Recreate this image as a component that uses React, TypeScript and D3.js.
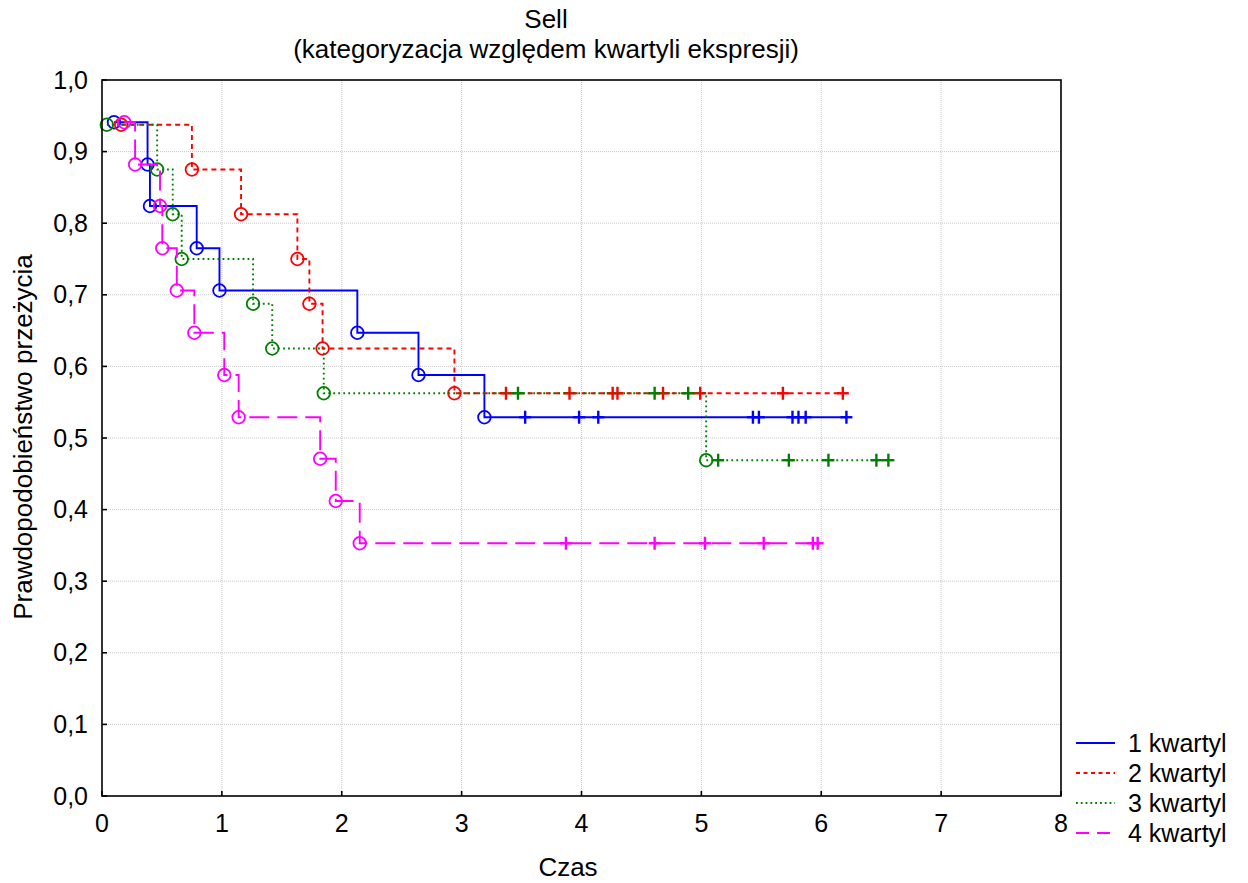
import React from "react";
import * as d3 from "d3";

const xTicks = [0, 1, 2, 3, 4, 5, 6, 7, 8];
const yTicks = [0, 0.1, 0.2, 0.3, 0.4, 0.5, 0.6, 0.7, 0.8, 0.9, 1.0];

const q1Times = [0.1, 0.38, 0.4, 0.79, 0.98, 2.13, 2.64, 3.19];
const q1Surv = [0.941, 0.882, 0.824, 0.765, 0.706, 0.647, 0.588, 0.529];
const q1Cens = [3.53, 3.98, 4.14, 5.43, 5.48, 5.76, 5.81, 5.87, 6.21];

const q2Times = [0.16, 0.75, 1.16, 1.63, 1.73, 1.84, 2.94];
const q2Surv = [0.9375, 0.875, 0.8125, 0.75, 0.6875, 0.625, 0.5625];
const q2Cens = [3.37, 3.9, 4.26, 4.3, 4.68, 4.99, 5.68, 6.18];

const q3Times = [0.04, 0.46, 0.59, 0.665, 1.26, 1.42, 1.85, 5.04];
const q3Surv = [0.9375, 0.875, 0.8125, 0.75, 0.6875, 0.625, 0.5625, 0.469];
const q3Cens = [3.47, 4.61, 4.89, 5.14, 5.73, 6.06, 6.46, 6.56];

const q4Times = [0.186, 0.276, 0.484, 0.503, 0.624, 0.77, 1.02, 1.14, 1.82, 1.95, 2.15];
const q4Surv = [0.941, 0.882, 0.824, 0.765, 0.706, 0.647, 0.588, 0.529, 0.471, 0.412, 0.353];
const q4Cens = [3.87, 4.61, 5.03, 5.52, 5.93, 5.97];

const seriesNames = ["1 kwartyl", "2 kwartyl", "3 kwartyl", "4 kwartyl"];

const series = [
  { name: seriesNames[0], times: q1Times, surv: q1Surv, cens: q1Cens, color: "#0000ff", dash: "none", legDash: "none" },
  { name: seriesNames[1], times: q2Times, surv: q2Surv, cens: q2Cens, color: "#ff0000", dash: "5,4", legDash: "4,3.5" },
  { name: seriesNames[2], times: q3Times, surv: q3Surv, cens: q3Cens, color: "#008000", dash: "1.8,3.2", legDash: "1.8,3" },
  { name: seriesNames[3], times: q4Times, surv: q4Surv, cens: q4Cens, color: "#ff00ff", dash: "20,8", legDash: "13,8" },
];

const W = 1248;
const H = 883;
const L = 102, R = 1061, T = 80, B = 796;
const FONT = "Arial, 'Liberation Sans', Helvetica, sans-serif";

export default function App() {
  const x = d3.scaleLinear().domain([0, 8]).range([L, R]);
  const y = d3.scaleLinear().domain([0, 1]).range([B, T]);
  const fmt = (v: number) => v.toFixed(1).replace(".", ",");

  const survAt = (s: typeof series[0], t: number) => {
    const i = d3.bisectRight(s.times, t) - 1;
    return i >= 0 ? s.surv[i] : 1;
  };

  const stepPath = (s: typeof series[0]) => {
    const pts: [number, number][] = [];
    s.times.forEach((t, i) => {
      if (i > 0) pts.push([t, s.surv[i - 1]]);
      pts.push([t, s.surv[i]]);
    });
    const last = s.surv[s.surv.length - 1];
    const lastT = Math.max(s.times[s.times.length - 1], ...s.cens);
    pts.push([lastT, last]);
    return d3.line<[number, number]>().x((d) => x(d[0])).y((d) => y(d[1]))(pts) || "";
  };

  return (
    <svg width={W} height={H} style={{ display: "block", position: "absolute", left: 0, top: 0, background: "#fff" }} fontFamily={FONT}>
      <rect x={0} y={0} width={W} height={H} fill="#fff" />
      <text x={546} y={28} textAnchor="middle" fontSize={26}>Sell</text>
      <text x={546} y={58} textAnchor="middle" fontSize={26}>(kategoryzacja względem kwartyli ekspresji)</text>

      {/* grid */}
      {xTicks.slice(1, -1).map((t) => (
        <line key={"gx" + t} x1={x(t)} x2={x(t)} y1={T} y2={B} stroke="#c8c8c8" strokeWidth={1} strokeDasharray="1,1" />
      ))}
      {yTicks.slice(1, -1).map((t) => (
        <line key={"gy" + t} x1={L} x2={R} y1={y(t)} y2={y(t)} stroke="#c8c8c8" strokeWidth={1} strokeDasharray="1,1" />
      ))}

      {/* curves */}
      {series.map((s) => (
        <g key={s.name}>
          <path d={stepPath(s)} fill="none" stroke={s.color} strokeWidth={1.9} strokeDasharray={s.dash} />
          {s.times.map((t, i) => (
            <circle key={"c" + i} cx={x(t)} cy={y(s.surv[i])} r={6.3} fill="none" stroke={s.color} strokeWidth={1.8} />
          ))}
          {s.cens.map((t, i) => {
            const cx = x(t);
            const cy = y(survAt(s, t));
            return (
              <g key={"k" + i} stroke={s.color} strokeWidth={2.4}>
                <line x1={cx - 6} x2={cx + 6} y1={cy} y2={cy} />
                <line x1={cx} x2={cx} y1={cy - 6.5} y2={cy + 6.5} />
              </g>
            );
          })}
        </g>
      ))}

      {/* frame */}
      <rect x={L} y={T} width={R - L} height={B - T} fill="none" stroke="#000" strokeWidth={1.6} />
      {xTicks.map((t) => (
        <g key={"xt" + t}>
          <line x1={x(t)} x2={x(t)} y1={B} y2={B - 5} stroke="#000" strokeWidth={1.6} />
          <text x={x(t)} y={832} textAnchor="middle" fontSize={25}>{t}</text>
        </g>
      ))}
      {yTicks.map((t) => (
        <g key={"yt" + t}>
          <line x1={L} x2={L + 5} y1={y(t)} y2={y(t)} stroke="#000" strokeWidth={1.6} />
          <text x={88} y={y(t) + 8.5} textAnchor="end" fontSize={25}>{fmt(t)}</text>
        </g>
      ))}
      <text x={568} y={876} textAnchor="middle" fontSize={26}>Czas</text>
      <text transform={`translate(32,437) rotate(-90)`} textAnchor="middle" fontSize={26}>Prawdopodobieństwo przeżycia</text>

      {/* legend */}
      {series.map((s, i) => (
        <g key={"lg" + i}>
          <line x1={1076} x2={1115} y1={743 + i * 30} y2={743 + i * 30} stroke={s.color} strokeWidth={1.9} strokeDasharray={s.legDash} />
          <text x={1128} y={752 + i * 30} fontSize={25}>{s.name}</text>
        </g>
      ))}
    </svg>
  );
}
